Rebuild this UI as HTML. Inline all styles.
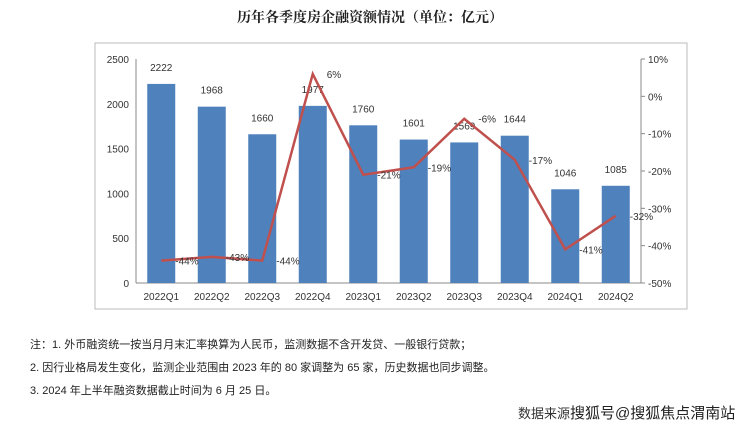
<!DOCTYPE html>
<html><head><meta charset="utf-8"><style>
body{margin:0;background:#fff;width:740px;height:429px;overflow:hidden;font-family:"Liberation Sans","Noto Sans CJK SC",sans-serif}
.t{position:absolute;white-space:nowrap}
</style></head><body>
<div class="t" style="left:0;width:740px;text-align:center;top:7px;font-size:14px;font-weight:bold;color:#222;font-family:'Liberation Serif','Noto Serif CJK SC',serif">历年各季度房企融资额情况（单位：亿元）</div>
<svg width="740" height="429" style="position:absolute;left:0;top:0" font-family="Liberation Sans, sans-serif" font-size="10" fill="#333">
<rect x="95" y="43" width="592" height="266" fill="none" stroke="#bbb"/>
<g id="g"></g>
</svg>
<div class="t" style="left:30px;top:336px;font-size:11px;color:#222">注：1. 外币融资统一按当月月末汇率换算为人民币，监测数据不含开发贷、一般银行贷款；</div>
<div class="t" style="left:30px;top:359px;font-size:11px;color:#222">2. 因行业格局发生变化，监测企业范围由 2023 年的 80 家调整为 65 家，历史数据也同步调整。</div>
<div class="t" style="left:30px;top:382px;font-size:11px;color:#222">3. 2024 年上半年融资数据截止时间为 6 月 25 日。</div>
<div class="t" style="left:518px;top:402px;font-size:13px;color:#333">数据来源<span style="font-size:15px;color:#222">搜狐号@搜狐焦点渭南站</span></div>
<script>
const categories=["2022Q1","2022Q2","2022Q3","2022Q4","2023Q1","2023Q2","2023Q3","2023Q4","2024Q1","2024Q2"];
const amounts=[2222,1968,1660,1977,1760,1601,1569,1644,1046,1085];
const growth=[-44,-43,-44,6,-21,-19,-6,-17,-41,-32];
const leftTicks=[0,500,1000,1500,2000,2500];
const rightTicks=[10,0,-10,-20,-30,-40,-50];
const ns="http://www.w3.org/2000/svg",g=document.getElementById('g');
const X0=136,X1=641,Y0=283,Y1=59,step=(X1-X0)/categories.length;
const yL=v=>Y0-(v/2500)*(Y0-Y1);
const yR=v=>Y0-((v+50)/60)*(Y0-Y1);
const cx=i=>X0+step*(i+0.5);
function el(t,a,txt){const e=document.createElementNS(ns,t);for(const k in a)e.setAttribute(k,a[k]);if(txt!=null)e.textContent=txt;g.appendChild(e);return e;}
let e=el('line',{x1:X0,y1:Y1,x2:X0,y2:Y0,stroke:'#888'});

e=el('line',{x1:X1,y1:Y1,x2:X1,y2:Y0,stroke:'#888'});

e=el('line',{x1:X0,y1:Y0,x2:X1,y2:Y0,stroke:'#888'});

leftTicks.forEach(v=>{e=el('text',{x:X0-7,y:yL(v)+4,'text-anchor':'end'},v);
});
rightTicks.forEach(v=>{el('line',{x1:X1,y1:yR(v),x2:X1+4,y2:yR(v),stroke:'#888'});
e=el('text',{x:X1+7,y:yR(v)+4},v+'%');
});
categories.forEach((c,i)=>{
 e=el('rect',{x:cx(i)-14,y:yL(amounts[i]),width:28,height:Y0-yL(amounts[i]),fill:'#4f81bd'});
 
 e=el('text',{x:cx(i),y:yL(amounts[i])-13,'text-anchor':'middle'},amounts[i]);
 
 e=el('text',{x:cx(i),y:Y0+17,'text-anchor':'middle'},c);
 
});
e=el('polyline',{points:growth.map((v,i)=>cx(i)+','+yR(v)).join(' '),fill:'none',stroke:'#c0504d','stroke-width':2.5});

growth.forEach((v,i)=>{e=el('text',{x:cx(i)+14,y:yR(v)+4},v+'%');
});
</script>
</body></html>
